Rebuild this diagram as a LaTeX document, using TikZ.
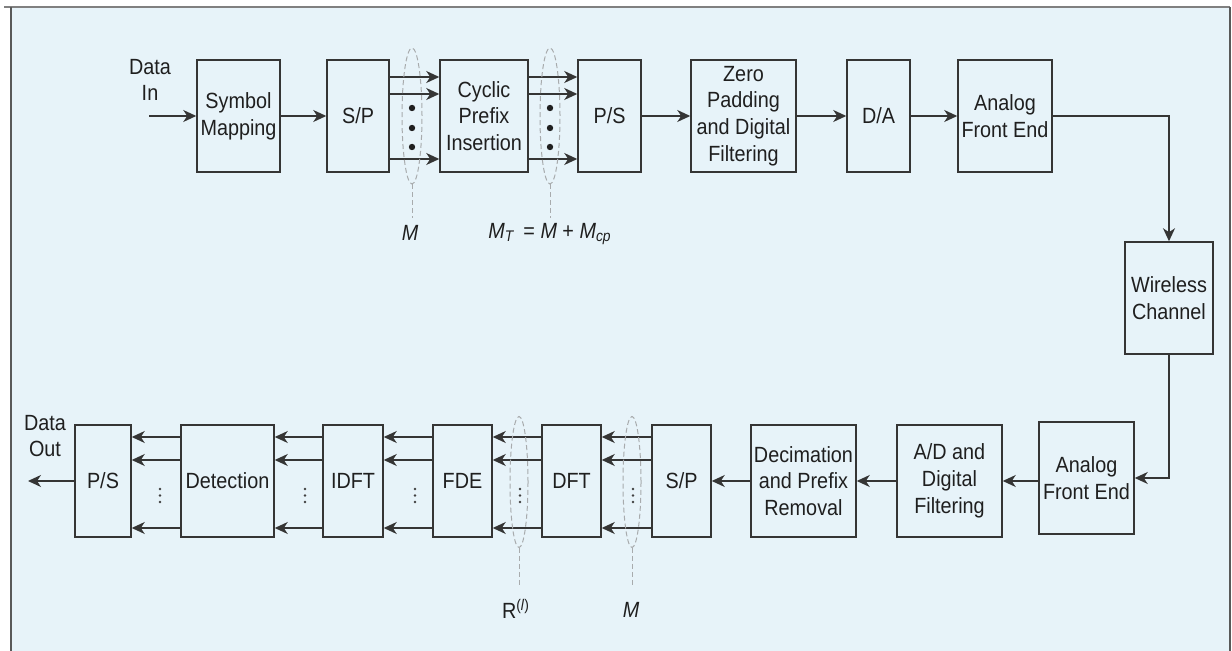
\documentclass[tikz,border=0pt]{standalone}
\usepackage{fontspec}
\setmainfont{Liberation Sans}[FakeStretch=0.9]
\usetikzlibrary{arrows.meta,shapes.geometric,calc}
\definecolor{bgblue}{HTML}{E7F3F9}
\definecolor{lineg}{HTML}{353535}
\definecolor{dashg}{HTML}{A8ABAD}
\begin{document}
\begin{tikzpicture}[x=0.5pt,y=-0.5pt,
  every node/.style={font=\fontsize{11pt}{13.4pt}\selectfont, text=black!88},
  blk/.style={draw=lineg, line width=0.75pt, fill=none, inner sep=0pt, align=center},
  arr/.style={draw=lineg, line width=0.7pt, -{Stealth[length=6.5pt,width=6pt,inset=2pt]}},
  grp/.style={ellipse, draw=dashg, dashed, line width=0.5pt, dash pattern=on 2.5pt off 1.5pt, inner sep=0pt},
  grpline/.style={draw=dashg, line width=0.5pt, dash pattern=on 2.5pt off 1.5pt},
  lbl/.style={inner sep=1pt, align=center}]
\useasboundingbox (0,0) rectangle (1232,651);
% frame
\fill[bgblue] (11,7) rectangle (1230,651);
\draw[draw=black!50, line width=0.8pt] (4,7) -- (1230,7);
\draw[draw=black!65, line width=1pt] (11,7) -- (11,651);
\draw[draw=black!65, line width=1pt] (1230,7) -- (1230,651);

% top row
\node[blk, minimum width=41.5pt, minimum height=56pt] (sm) at (238.5,116) {Symbol\\Mapping};
\node[blk, minimum width=31pt, minimum height=56pt] (sp1) at (358,116) {S/P};
\node[blk, minimum width=44pt, minimum height=56pt] (cp) at (484,116) {Cyclic\\Prefix\\Insertion};
\node[blk, minimum width=31.5pt, minimum height=56pt] (ps1) at (609.5,116) {P/S};
\node[blk, minimum width=52.5pt, minimum height=56pt] (zp) at (743.5,116) {Zero\\Padding\\and Digital\\Filtering};
\node[blk, minimum width=31.5pt, minimum height=56pt] (da) at (878.5,116) {D/A};
\node[blk, minimum width=47pt, minimum height=56pt] (afe1) at (1005,116) {Analog\\Front End};
\node[blk, minimum width=44pt, minimum height=56pt] (wc) at (1169,298) {Wireless\\Channel};

% bottom row
\node[blk, minimum width=47.5pt, minimum height=56pt] (afe2) at (1086.5,478) {Analog\\Front End};
\node[blk, minimum width=52.5pt, minimum height=56pt] (ad) at (949.5,481) {A/D and\\Digital\\Filtering};
\node[blk, minimum width=52.5pt, minimum height=56pt] (dec) at (803.5,481) {Decimation\\and Prefix\\Removal};
\node[blk, minimum width=29.5pt, minimum height=56pt] (sp2) at (681.5,481) {S/P};
\node[blk, minimum width=29.5pt, minimum height=56pt] (dft) at (571.5,481) {DFT};
\node[blk, minimum width=29.5pt, minimum height=56pt] (fde) at (462.5,481) {FDE};
\node[blk, minimum width=30pt, minimum height=56pt] (idft) at (353,481) {IDFT};
\node[blk, minimum width=46.5pt, minimum height=56pt] (det) at (227.5,481) {Detection};
\node[blk, minimum width=28pt, minimum height=56pt] (ps2) at (103,481) {P/S};

% labels
\node[lbl] (din) at (150,80) {Data\\In};
\node[lbl] (dout) at (45,436) {Data\\Out};
\coordinate (dinstart) at (149,116);
\coordinate (doutend) at (28,481);

% top connectors
\draw[arr] (dinstart) -- (sm.west);
\draw[arr] (sm.east) -- (sp1.west);
\foreach \yy in {77,94,159} {
  \draw[arr] (sp1.east |- 0,\yy) -- (cp.west |- 0,\yy);
  \draw[arr] (cp.east |- 0,\yy) -- (ps1.west |- 0,\yy);
}
\draw[arr] (ps1.east) -- (zp.west);
\draw[arr] (zp.east) -- (da.west);
\draw[arr] (da.east) -- (afe1.west);
\draw[arr] (afe1.east) -| (wc.north);
\draw[arr] (wc.south) |- (afe2.east);

% bottom connectors
\draw[arr] (afe2.west |- ad.east) -- (ad.east);
\draw[arr] (ad.west) -- (dec.east);
\draw[arr] (dec.west) -- (sp2.east);
\foreach \yy in {437,460,528} {
  \draw[arr] (sp2.west |- 0,\yy) -- (dft.east |- 0,\yy);
  \draw[arr] (dft.west |- 0,\yy) -- (fde.east |- 0,\yy);
  \draw[arr] (fde.west |- 0,\yy) -- (idft.east |- 0,\yy);
  \draw[arr] (idft.west |- 0,\yy) -- (det.east |- 0,\yy);
  \draw[arr] (det.west |- 0,\yy) -- (ps2.east |- 0,\yy);
}
\draw[arr] (ps2.west) -- (doutend);

% bullets (top)
\foreach \xx in {412,550} {
  \foreach \yy in {108,128,147} { \fill[black!88] (\xx,\yy) circle (1.6pt); }
}
% small vertical dots (bottom)
\foreach \xx in {160,305,415,520,633} {
  \foreach \yy in {489,495.5,502} { \fill[black!75] (\xx,\yy) circle (0.65pt); }
}

% grouping ellipses
\node[grp, minimum width=10pt, minimum height=68pt] (g1) at (412,116) {};
\node[grp, minimum width=10pt, minimum height=68pt] (g2) at (550,116) {};
\node[grp, minimum width=9pt, minimum height=65.5pt] (g3) at (519,482) {};
\node[grp, minimum width=9pt, minimum height=65.5pt] (g4) at (632,482) {};

\node[lbl] (m1) at (410,233) {\textit{M}};
\node[lbl] (mt) at (550,234) {\textit{M\textsubscript{T}}\, = \textit{M} + \textit{M\textsubscript{cp}}};
\node[lbl] (rl) at (516,609) {R\textsuperscript{(\textit{l})}};
\node[lbl] (m2) at (631,610) {\textit{M}};

\draw[grpline] (g1.south) -- (412,218);
\draw[grpline] (g2.south) -- (550,218);
\draw[grpline] (g3.south) -- (519,587);
\draw[grpline] (g4.south) -- (632,587);
\end{tikzpicture}
\end{document}
